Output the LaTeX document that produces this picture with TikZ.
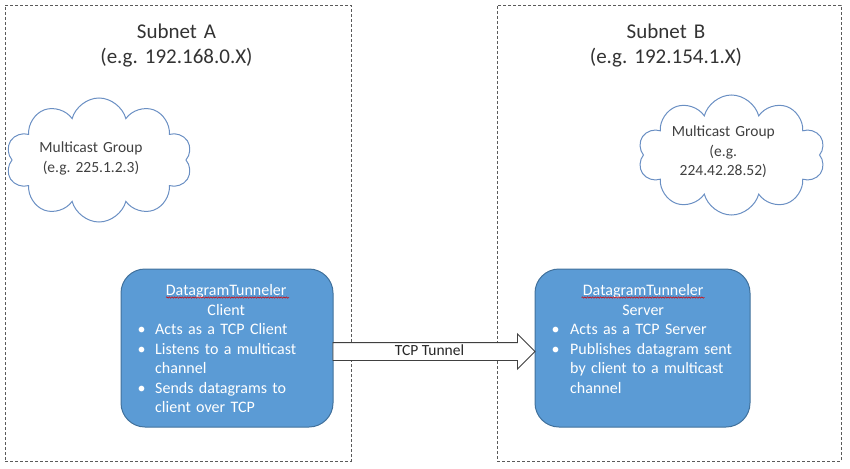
\documentclass[tikz,border=0pt]{standalone}
\usepackage{fontspec}
\setmainfont{Carlito}
\frenchspacing
\usetikzlibrary{shapes.symbols,shapes.arrows,decorations.pathmorphing,calc}
\definecolor{boxblue}{HTML}{5B9BD5}
\definecolor{boxedge}{HTML}{41719C}
\definecolor{cloudedge}{HTML}{6A8FC3}
\definecolor{dashgray}{HTML}{5A5A5A}
\definecolor{titlegray}{HTML}{333333}
\definecolor{textgray}{HTML}{404040}
\newcommand\bitem[2]{\par\hangindent=#1\hangafter=1 \makebox[#1][l]{\kern1.5pt\textbullet}#2\par}
\begin{document}
\begin{tikzpicture}[x=1pt,y=-1pt,
  subnet/.style={draw=dashgray, line width=0.9pt, dash pattern=on 3pt off 2pt, inner sep=0pt},
  titletext/.style={text=titlegray, font=\fontsize{21}{25}\selectfont\frenchspacing, text width=260pt, align=center, inner sep=0pt},
  cloudshape/.style={cloud, cloud puffs=10, cloud ignores aspect, draw=cloudedge, line width=1pt, inner sep=0pt},
  cloudtext/.style={text=textgray, font=\fontsize{15.5}{19.5}\selectfont\frenchspacing, text width=150pt, align=center, inner sep=0pt},
  tdbox/.style={draw=boxedge, fill=boxblue, line width=1pt, rounded corners=24pt, minimum height=158pt, inner sep=0pt},
  boxtext/.style={text=white, font=\fontsize{16}{19.5}\selectfont, align=left, inner sep=0pt},
  tunnel/.style={single arrow, draw=textgray, fill=white, line width=0.9pt, single arrow head extend=8.5pt,
     single arrow tip angle=90, minimum height=202pt, text height=11.5pt, text depth=4.5pt,
     inner xsep=0pt, inner ysep=0.5pt, font=\fontsize{15.5}{18}\selectfont, text=black!85},
  spell/.style={draw=red!85!black, line width=0.5pt, decorate, decoration={snake, amplitude=0.7pt, segment length=2.6pt}}
]
\useasboundingbox (0,0) rectangle (850,468);
% subnets
\node[subnet, minimum width=346pt, minimum height=456pt] (subA) at (178,233) {};
\node[subnet, minimum width=344pt, minimum height=456pt] (subB) at (669,233) {};
\node[titletext, anchor=base] (titleA) at (176.5,38.3) {Subnet A\\(e.g. 192.168.0.X)};
\node[titletext, anchor=base] (titleB) at (666,38.3) {Subnet B\\(e.g. 192.154.1.X)};
% clouds
\node[cloudshape, minimum width=186pt, minimum height=124pt] (cloudA) at (99,160) {};
\node[cloudtext, anchor=base] (cloudAtext) at (91,152.7) {Multicast Group\\(e.g. 225.1.2.3)};
\node[cloudshape, minimum width=187pt, minimum height=120pt] (cloudB) at (731.5,155) {};
\node[cloudtext, anchor=base] (cloudBtext) at (723.3,136.5) {Multicast Group\\(e.g.\\224.42.28.52)};
% boxes
\node[tdbox, minimum width=212pt] (client) at (227,348) {};
\node[tdbox, minimum width=215pt] (server) at (642.5,348) {};
\node[boxtext, text width=180pt, anchor=base west] (clientText) at (136,295.5)
  {{\centering DatagramTunneler\\Client\par}
   \bitem{19pt}{Acts as a TCP Client}
   \bitem{19pt}{Listens to a multicast\newline channel}
   \bitem{19pt}{Sends datagrams to\newline client over TCP}};
\node[boxtext, text width=186pt, anchor=base west] (serverText) at (550,295.5)
  {{\centering DatagramTunneler\\Server\par}
   \bitem{20pt}{Acts as a TCP Server}
   \bitem{20pt}{Publishes datagram sent\newline by client to a multicast\newline channel}};
\draw[spell] ($(client.north)+(-61,29)$) -- ++(123,0);
\draw[spell] ($(server.north)+(-61,29)$) -- ++(123,0);
% tunnel
\node[tunnel, anchor=tail] (tunnel) at ($(client.east)+(-1,3.5)$) {TCP Tunnel};
\end{tikzpicture}
\end{document}
